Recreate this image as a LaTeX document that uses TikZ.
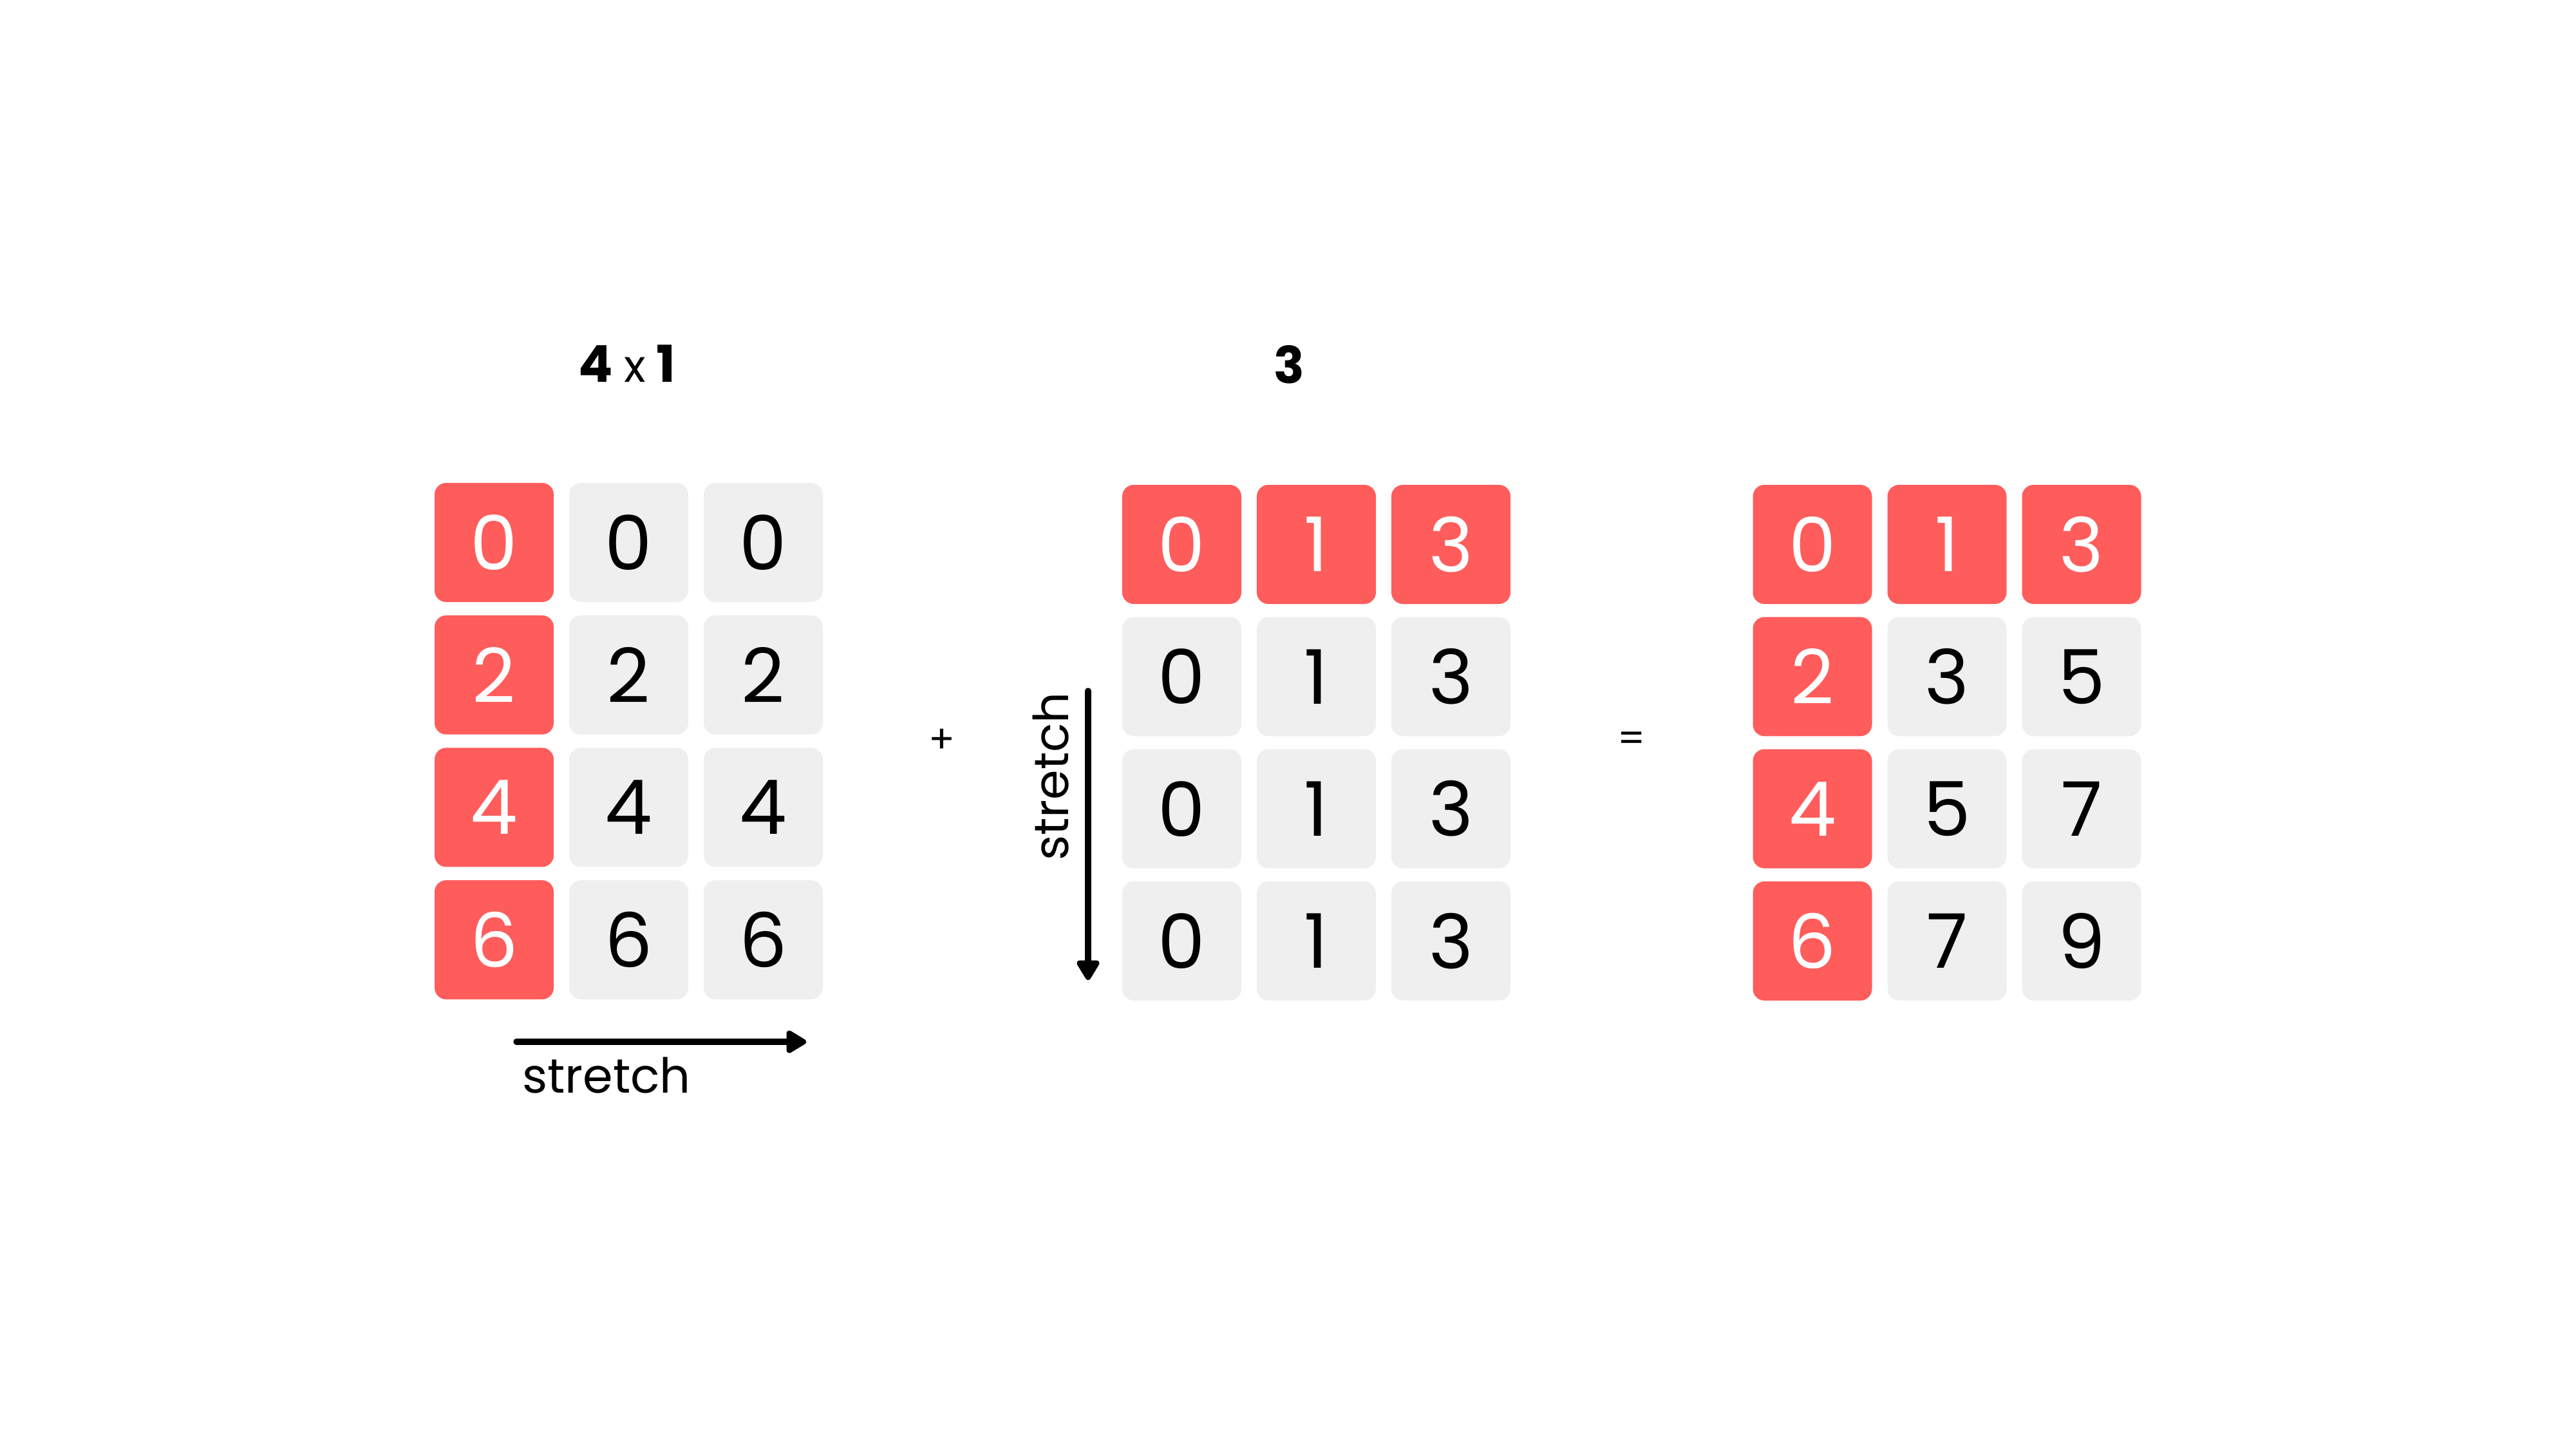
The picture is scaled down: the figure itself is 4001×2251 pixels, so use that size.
\documentclass[tikz,border=0pt]{standalone}
\usepackage{fontspec}
\setmainfont{Poppins}
\usetikzlibrary{arrows.meta}
\definecolor{cellred}{HTML}{FF5C5C}
\definecolor{cellgray}{HTML}{EFEFEF}
\newcommand{\digfont}{\fontsize{117pt}{120pt}\selectfont}
\newcommand{\lblfont}{\fontsize{79pt}{82pt}\selectfont\bfseries}
\newcommand{\strfont}{\fontsize{75pt}{78pt}\selectfont}
\newcommand{\opfont}{\fontsize{60pt}{62pt}\selectfont}
\tikzset{
  cell/.style={rounded corners=18pt, minimum width=185pt, minimum height=185pt, inner sep=0pt, font=\digfont},
  redcell/.style={cell, fill=cellred, text=white},
  graycell/.style={cell, fill=cellgray, text=black},
  stretcharrow/.style={line width=9.5pt, line cap=round, -{Triangle[length=35pt,width=39pt,round]}},
}
\begin{document}
\begin{tikzpicture}[x=1pt,y=-1pt]
\useasboundingbox (0,0) rectangle (4001,2251);
% labels
\node[font=\lblfont] (lblA) at (974,565) {4 {\mdseries\fontsize{70pt}{72pt}\selectfont x} 1};
\node[font=\lblfont] (lblB) at (2002,566) {3};
% left matrix
\foreach \v [count=\r] in {0,2,4,6} {
  \pgfmathsetmacro{\yy}{842.5+(\r-1)*205.7}
  \node[redcell] (L\r c1) at (767.5,\yy) {\v};
  \node[graycell] (L\r c2) at (976.5,\yy) {\v};
  \node[graycell] (L\r c3) at (1185.5,\yy) {\v};
}
% middle matrix
\node[redcell] (M1c1) at (1835.5,845.5) {0};
\node[redcell] (M1c2) at (2044.5,845.5) {1};
\node[redcell] (M1c3) at (2253.5,845.5) {3};
\foreach \r in {2,3,4} {
  \pgfmathsetmacro{\yy}{845.5+(\r-1)*205.3}
  \node[graycell] (M\r c1) at (1835.5,\yy) {0};
  \node[graycell] (M\r c2) at (2044.5,\yy) {1};
  \node[graycell] (M\r c3) at (2253.5,\yy) {3};
}
% right matrix
\node[redcell] (R1c1) at (2815,845.5) {0};
\node[redcell] (R1c2) at (3024,845.5) {1};
\node[redcell] (R1c3) at (3233,845.5) {3};
\node[redcell] (R2c1) at (2815,1050.8) {2};
\node[graycell] (R2c2) at (3024,1050.8) {3};
\node[graycell] (R2c3) at (3233,1050.8) {5};
\node[redcell] (R3c1) at (2815,1256.1) {4};
\node[graycell] (R3c2) at (3024,1256.1) {5};
\node[graycell] (R3c3) at (3233,1256.1) {7};
\node[redcell] (R4c1) at (2815,1461.4) {6};
\node[graycell] (R4c2) at (3024,1461.4) {7};
\node[graycell] (R4c3) at (3233,1461.4) {9};
% operators
\node[font=\opfont, inner sep=0pt] (plus) at (1463,1151) {+};
\node[font=\opfont, inner sep=0pt] (eq) at (2534,1152) {=};
% stretch arrows
\coordinate (hs) at (802,1618);
\coordinate (he) at (1252,1618);
\draw[stretcharrow] (hs) -- (he);
\node[font=\strfont, anchor=base west, inner sep=0pt] (hlbl) at (811,1697) {stretch};
\coordinate (vs) at (1690,1073);
\coordinate (ve) at (1690,1522);
\draw[stretcharrow] (vs) -- (ve);
\node[font=\strfont, anchor=base west, rotate=90, inner sep=0pt] (vlbl) at (1659,1337) {stretch};
\end{tikzpicture}
\end{document}
